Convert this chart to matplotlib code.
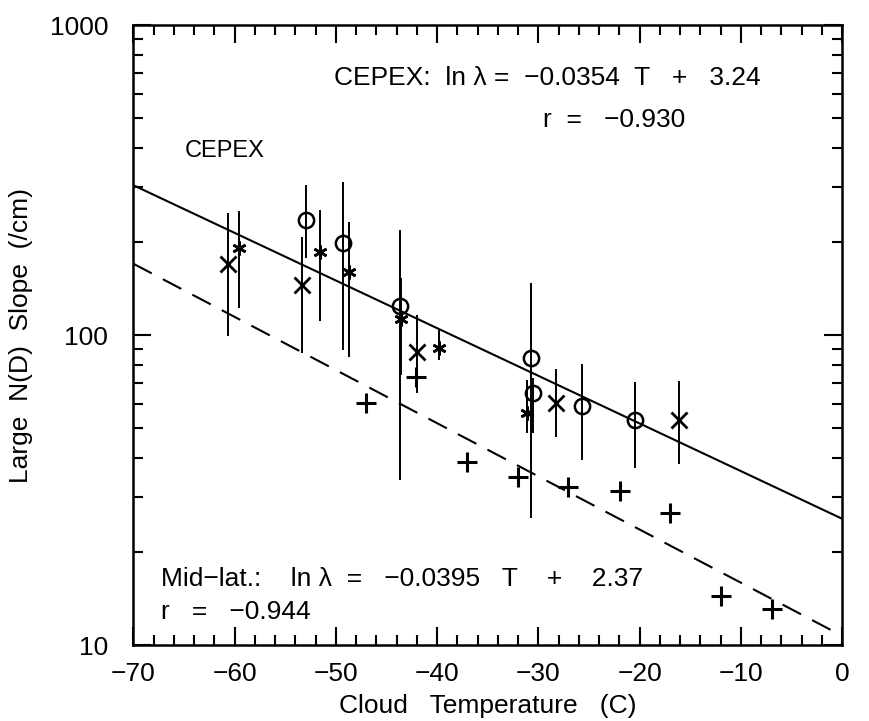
import numpy as np
import matplotlib
matplotlib.use("Agg")
import matplotlib.pyplot as plt
from matplotlib.ticker import MultipleLocator, FixedLocator, FixedFormatter, LogLocator, NullFormatter

plt.rcParams['font.family'] = ['Liberation Sans', 'DejaVu Sans']

# CEPEX data: x markers
x_T = [-60.6, -53.35, -42.0, -28.3, -16.07]
x_v = [170, 145, 88.3, 60.4, 53.2]
x_lo = [99.5, 87.3, 64.9, 47.0, 38.5]
x_hi = [248, 207.5, 116, 77.6, 71.1]

# CEPEX data: asterisks
a_T = [-59.54, -51.61, -48.68, -43.6, -39.86, -31.16]
a_v = [190.4, 185.7, 160, 112.5, 90.6, 55.9]
a_lo = [121.9, 110.9, 85.1, 74.3, 83.0, 48.3]
a_hi = [251, 253, 231, 152.4, 103.7, 71.6]

# CEPEX data: circles
c_T = [-52.92, -49.34, -43.64, -30.75, -30.5, -25.72, -20.44]
c_v = [235, 197.8, 124, 84.1, 64.9, 59.0, 53.0]
c_lo = [176.6, 89.5, 34.0, 25.6, 48.3, 39.5, 37.2]
c_hi = [305, 312, 218, 146.8, 72.6, 80.4, 70.7]

# Mid-latitude data: plus markers (no error bars)
p_T = [-47.0, -42.06, -37.06, -32.06, -27.03, -21.93, -16.99, -11.95, -6.95]
p_v = [60.5, 73.3, 39.0, 34.9, 32.4, 31.3, 26.6, 14.4, 13.1]

# fit coefficients: ln(lambda) = a*T + b
cepex_fit = (-0.0354, 3.24)
midlat_fit = (-0.0395, 2.37)

fig = plt.figure(figsize=(8.7, 7.21), dpi=100)
ax = fig.add_axes([0.1532, 0.1054, 0.8149, 0.8599])

fs = 19

def bars(T, lo, hi):
    ax.vlines(T, lo, hi, colors='black', linewidth=1.4)

bars(x_T, x_lo, x_hi)
bars(a_T, a_lo, a_hi)
bars(c_T, c_lo, c_hi)

ax.plot(x_T, x_v, linestyle='none', marker='x', markersize=11, mew=2.0, color='black')
ax.plot(a_T, a_v, linestyle='none', marker=(6, 2, 0), markersize=10, mew=1.9, color='black')
ax.plot(c_T, c_v, linestyle='none', marker='o', markersize=11, mew=1.8, mfc='none', mec='black')
ax.plot(p_T, p_v, linestyle='none', marker='+', markersize=15, mew=2.2, color='black')

T = np.linspace(-70, 0, 200)
ax.plot(T, np.exp(cepex_fit[0] * T + cepex_fit[1]), color='black', linewidth=1.5)
ax.plot(T, np.exp(midlat_fit[0] * T + midlat_fit[1]), color='black', linewidth=1.5,
        dashes=(10, 6))

ax.set_yscale('log')
ax.set_xlim(-70, 0)
ax.set_ylim(10, 1000)

ax.xaxis.set_major_locator(MultipleLocator(10))
ax.xaxis.set_minor_locator(MultipleLocator(2))
ax.yaxis.set_major_locator(FixedLocator([10, 100, 1000]))
ax.yaxis.set_major_formatter(FixedFormatter(['10', '100', '1000']))
ax.yaxis.set_minor_locator(LogLocator(base=10, subs=np.arange(2, 10)))
ax.yaxis.set_minor_formatter(NullFormatter())

ax.tick_params(which='both', direction='in', top=True, right=True, width=1.5,
               labelsize=fs)
ax.tick_params(axis='x', pad=12)
ax.tick_params(axis='y', pad=18)
ax.tick_params(which='major', length=13)
ax.tick_params(which='minor', length=7)
for s in ax.spines.values():
    s.set_linewidth(1.8)

ax.set_xlabel('Cloud   Temperature   (C)', fontsize=fs, labelpad=6)
ax.set_ylabel('Large  N(D)  Slope  (/cm)', fontsize=fs, labelpad=12)

ax.text(0.283, 0.903, 'CEPEX:  ln λ =  −0.0354  T   +   3.24', transform=ax.transAxes,
        fontsize=fs, va='baseline', ha='left')
ax.text(0.578, 0.835, 'r  =   −0.930', transform=ax.transAxes,
        fontsize=fs, va='baseline', ha='left')
ax.text(0.072, 0.787, 'CEPEX', transform=ax.transAxes,
        fontsize=17, va='baseline', ha='left')
ax.text(0.039, 0.095, 'Mid−lat.:    ln λ  =   −0.0395   T    +    2.37', transform=ax.transAxes,
        fontsize=fs, va='baseline', ha='left')
ax.text(0.039, 0.042, 'r   =   −0.944', transform=ax.transAxes,
        fontsize=fs, va='baseline', ha='left')

fig.savefig('out.png', dpi=100)
